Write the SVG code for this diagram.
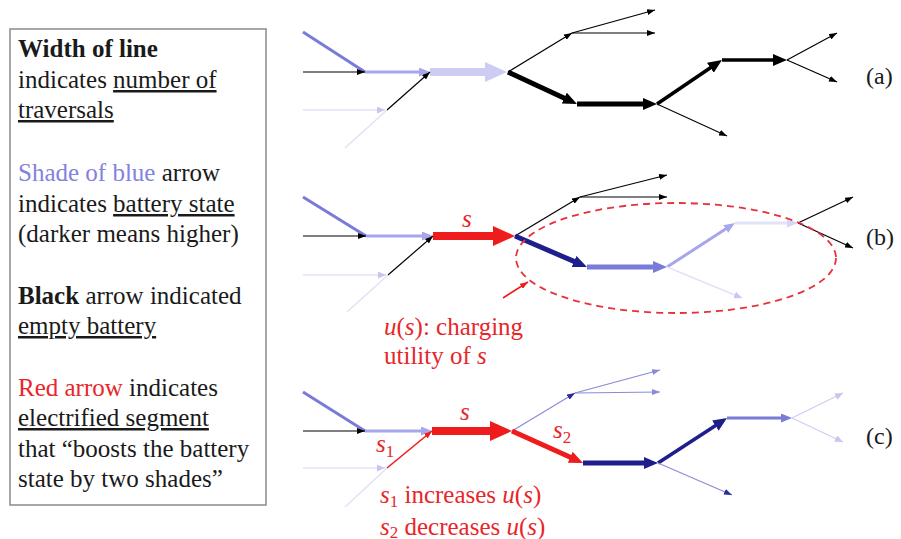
<svg xmlns="http://www.w3.org/2000/svg" width="901" height="539" viewBox="0 0 901 539">
<style>
text{font-family:'Liberation Serif',serif;font-size:25px;fill:#1a1a1a}
.red{fill:#e8262a}
.blu{fill:#8282e0}
.it{font-style:italic}
.u{text-decoration:underline}
.lbl{font-size:24px}
line{fill:none;stroke-linecap:butt}
.k{stroke:#000}
.nv{stroke:#1e1e8c}
.b1{stroke:#7a7ad8}
.b2{stroke:#a6a6ea}
.b3{stroke:#cdcdf4}
.b4{stroke:#e2e2f8}
.bt{stroke:#8a8ad8}
.r{stroke:#ee1c1c}
.w1{stroke-width:1.2}
.w15{stroke-width:1.6}
.w3{stroke-width:3}
.w35{stroke-width:3.6}
.w5{stroke-width:5}
.w8{stroke-width:8}
</style>
<defs>
<marker id="sK" markerUnits="userSpaceOnUse" markerWidth="8" markerHeight="6" viewBox="0 0 8 6" refX="8" refY="3" orient="auto"><path d="M0,0L8,3L0,6z" fill="#000"/></marker>
<marker id="sN" markerUnits="userSpaceOnUse" markerWidth="8" markerHeight="6" viewBox="0 0 8 6" refX="8" refY="3" orient="auto"><path d="M0,0L8,3L0,6z" fill="#2a2a9a"/></marker>
<marker id="sB" markerUnits="userSpaceOnUse" markerWidth="8" markerHeight="6" viewBox="0 0 8 6" refX="8" refY="3" orient="auto"><path d="M0,0L8,3L0,6z" fill="#8a8ad8"/></marker>
<marker id="sL" markerUnits="userSpaceOnUse" markerWidth="8" markerHeight="7" viewBox="0 0 8 7" refX="8" refY="3.5" orient="auto"><path d="M0,0L8,3.5L0,7z" fill="#c6c6f2"/></marker>
<marker id="sR" markerUnits="userSpaceOnUse" markerWidth="8" markerHeight="6" viewBox="0 0 8 6" refX="8" refY="3" orient="auto"><path d="M0,0L8,3L0,6z" fill="#ee1c1c"/></marker>
<marker id="mB2" markerUnits="userSpaceOnUse" markerWidth="11" markerHeight="9" viewBox="0 0 11 9" refX="4" refY="4.5" orient="auto"><path d="M0,0L11,4.5L0,9z" fill="#a6a6ea"/></marker>
<marker id="mB1" markerUnits="userSpaceOnUse" markerWidth="11" markerHeight="9" viewBox="0 0 11 9" refX="4" refY="4.5" orient="auto"><path d="M0,0L11,4.5L0,9z" fill="#7a7ad8"/></marker>
<marker id="mB4" markerUnits="userSpaceOnUse" markerWidth="11" markerHeight="9" viewBox="0 0 11 9" refX="4" refY="4.5" orient="auto"><path d="M0,0L11,4.5L0,9z" fill="#d6d6f6"/></marker>
<marker id="lK" markerUnits="userSpaceOnUse" markerWidth="14" markerHeight="12" viewBox="0 0 14 12" refX="5" refY="6" orient="auto"><path d="M0,0L14,6L0,12z" fill="#000"/></marker>
<marker id="lN" markerUnits="userSpaceOnUse" markerWidth="14" markerHeight="12" viewBox="0 0 14 12" refX="5" refY="6" orient="auto"><path d="M0,0L14,6L0,12z" fill="#1e1e8c"/></marker>
<marker id="lB1" markerUnits="userSpaceOnUse" markerWidth="14" markerHeight="12" viewBox="0 0 14 12" refX="5" refY="6" orient="auto"><path d="M0,0L14,6L0,12z" fill="#7a7ad8"/></marker>
<marker id="lR" markerUnits="userSpaceOnUse" markerWidth="14" markerHeight="12" viewBox="0 0 14 12" refX="5" refY="6" orient="auto"><path d="M0,0L14,6L0,12z" fill="#ee1c1c"/></marker>
<marker id="xB3" markerUnits="userSpaceOnUse" markerWidth="22" markerHeight="20" viewBox="0 0 22 20" refX="7" refY="10" orient="auto"><path d="M0,0L22,10L0,20z" fill="#cdcdf4"/></marker>
<marker id="xR" markerUnits="userSpaceOnUse" markerWidth="22" markerHeight="20" viewBox="0 0 22 20" refX="7" refY="10" orient="auto"><path d="M0,0L22,10L0,20z" fill="#ee1c1c"/></marker>
</defs>

<g id="legend">
<rect x="10" y="29" width="256" height="476" fill="#fff" stroke="#8a8a8a" stroke-width="1.5"/>
<text x="18" y="57" font-weight="bold">Width of line</text>
<text x="18" y="88">indicates <tspan class="u">number of</tspan></text>
<text x="18" y="118"><tspan class="u">traversals</tspan></text>
<text x="18" y="181"><tspan class="blu">Shade of blue</tspan> arrow</text>
<text x="18" y="212">indicates <tspan class="u">battery state</tspan></text>
<text x="18" y="242">(darker means higher)</text>
<text x="18" y="304"><tspan font-weight="bold">Black</tspan> arrow indicated</text>
<text x="18" y="334"><tspan class="u">empty battery</tspan></text>
<text x="18" y="396"><tspan class="red">Red arrow</tspan> indicates</text>
<text x="18" y="426"><tspan class="u">electrified segment</tspan></text>
<text x="18" y="457">that &#8220;boosts the battery</text>
<text x="18" y="487">state by two shades&#8221;</text>
</g>

<g id="connectors">
<g id="panel-a">
<line class="b1 w3" x1="303" y1="32" x2="365" y2="72"/>
<line class="k w1" x1="303" y1="72" x2="365" y2="72" marker-end="url(#sK)"/>
<line class="b2 w3" x1="365" y1="72" x2="423" y2="72" marker-end="url(#mB2)"/>
<line class="b3 w8" x1="430" y1="72" x2="492" y2="72" marker-end="url(#xB3)"/>
<line class="b4 w15" x1="345" y1="148" x2="387" y2="110"/>
<line class="b4 w15" x1="303" y1="110" x2="385" y2="110" marker-end="url(#sL)"/>
<line class="k w1" x1="387" y1="110" x2="430" y2="72" marker-end="url(#sK)"/>
<line class="k w1" x1="508" y1="72" x2="572" y2="33" marker-end="url(#sK)"/>
<line class="k w1" x1="572" y1="33" x2="655" y2="10" marker-end="url(#sK)"/>
<line class="k w1" x1="572" y1="33" x2="655" y2="33" marker-end="url(#sK)"/>
<line class="k w5" x1="508" y1="72" x2="568.8" y2="100.2" marker-end="url(#lK)"/>
<line class="k w5" x1="577" y1="104" x2="648" y2="104" marker-end="url(#lK)"/>
<line class="k w1" x1="657" y1="104" x2="727" y2="136" marker-end="url(#sK)"/>
<line class="k w35" x1="657" y1="104" x2="714.5" y2="65" marker-end="url(#lK)"/>
<line class="k w35" x1="722" y1="60" x2="778" y2="60" marker-end="url(#lK)"/>
<line class="k w1" x1="787" y1="60" x2="837" y2="33" marker-end="url(#sK)"/>
<line class="k w1" x1="787" y1="60" x2="837" y2="82" marker-end="url(#sK)"/>
</g>
<g id="panel-b">
<line class="b1 w3" x1="303" y1="197" x2="366" y2="236"/>
<line class="k w1" x1="303" y1="236" x2="366" y2="236" marker-end="url(#sK)"/>
<line class="b2 w3" x1="366" y1="236" x2="426" y2="236" marker-end="url(#mB2)"/>
<line class="r w8" x1="433" y1="236" x2="500" y2="236" marker-end="url(#xR)"/>
<line class="b4 w15" x1="347" y1="312" x2="388" y2="275"/>
<line class="b4 w15" x1="303" y1="275" x2="386" y2="275" marker-end="url(#sL)"/>
<line class="k w1" x1="388" y1="275" x2="433" y2="236" marker-end="url(#sK)"/>
<line class="k w1" x1="515" y1="236" x2="580" y2="197" marker-end="url(#sK)"/>
<line class="k w1" x1="580" y1="197" x2="667" y2="175" marker-end="url(#sK)"/>
<line class="k w1" x1="580" y1="197" x2="667" y2="197" marker-end="url(#sK)"/>
<line class="nv w5" x1="515" y1="236" x2="578.7" y2="263.4" marker-end="url(#lN)"/>
<line class="b1 w5" x1="587" y1="267" x2="658" y2="267" marker-end="url(#lB1)"/>
<line class="b2 w3" x1="667" y1="267" x2="729.1" y2="226.8" marker-end="url(#mB2)"/>
<line class="b4 w3" x1="735" y1="223" x2="791" y2="223" marker-end="url(#mB4)"/>
<line class="b4 w15" x1="667" y1="267" x2="742" y2="298" marker-end="url(#sL)"/>
<line class="k w1" x1="798" y1="223" x2="853" y2="197" marker-end="url(#sK)"/>
<line class="k w1" x1="798" y1="223" x2="853" y2="248" marker-end="url(#sK)"/>
<ellipse cx="676" cy="258" rx="160" ry="55" fill="none" stroke="#e8303a" stroke-width="1.8" stroke-dasharray="7 5"/>
<line class="r w15" x1="503" y1="298" x2="528" y2="282" marker-end="url(#sR)"/>
</g>
<g id="panel-c">
<line class="b1 w3" x1="303" y1="392" x2="365" y2="431"/>
<line class="k w1" x1="303" y1="431" x2="365" y2="431" marker-end="url(#sK)"/>
<line class="b2 w3" x1="365" y1="431" x2="425" y2="431" marker-end="url(#mB2)"/>
<line class="r w8" x1="432" y1="431" x2="497" y2="431" marker-end="url(#xR)"/>
<line class="b4 w15" x1="345" y1="507" x2="387" y2="468"/>
<line class="b4 w15" x1="303" y1="468" x2="385" y2="468" marker-end="url(#sL)"/>
<line class="r w15" x1="387" y1="468" x2="432" y2="431" marker-end="url(#sR)"/>
<line class="bt w1" x1="512" y1="431" x2="575" y2="393" marker-end="url(#sN)"/>
<line class="bt w1" x1="575" y1="393" x2="660" y2="370" marker-end="url(#sB)"/>
<line class="bt w1" x1="575" y1="393" x2="660" y2="392" marker-end="url(#sB)"/>
<line class="r w5" x1="512" y1="431" x2="574.8" y2="459.3" marker-end="url(#lR)"/>
<line class="nv w5" x1="583" y1="463" x2="649" y2="463" marker-end="url(#lN)"/>
<line class="nv w35" x1="658" y1="463" x2="719.5" y2="422.9" marker-end="url(#lN)"/>
<line class="b1 w3" x1="727" y1="418" x2="785" y2="418" marker-end="url(#mB1)"/>
<line class="bt w1" x1="658" y1="463" x2="732" y2="495" marker-end="url(#sN)"/>
<line class="b3 w1" x1="792" y1="418" x2="843" y2="393" marker-end="url(#sL)"/>
<line class="b3 w1" x1="792" y1="418" x2="843" y2="442" marker-end="url(#sL)"/>
</g>
</g>

<g id="labels">
<text class="lbl" x="866" y="84">(a)</text>
<text class="lbl" x="866" y="245">(b)</text>
<text class="lbl" x="866" y="444">(c)</text>
<text class="red it" x="462" y="227">s</text>
<text class="red" x="384" y="335"><tspan class="it">u</tspan>(<tspan class="it">s</tspan>): charging</text>
<text class="red" x="384" y="364">utility of <tspan class="it">s</tspan></text>
<text class="red it" x="460" y="420">s</text>
<text class="red" x="376" y="452"><tspan class="it">s</tspan><tspan font-size="17" dy="5">1</tspan></text>
<text class="red" x="553" y="438"><tspan class="it">s</tspan><tspan font-size="17" dy="5">2</tspan></text>
<text class="red" x="380" y="503"><tspan class="it">s</tspan><tspan font-size="17" dy="4">1</tspan><tspan dy="-4"> increases </tspan><tspan class="it">u</tspan>(<tspan class="it">s</tspan>)</text>
<text class="red" x="380" y="535"><tspan class="it">s</tspan><tspan font-size="17" dy="3">2</tspan><tspan dy="-3"> decreases </tspan><tspan class="it">u</tspan>(<tspan class="it">s</tspan>)</text>
</g>
</svg>
